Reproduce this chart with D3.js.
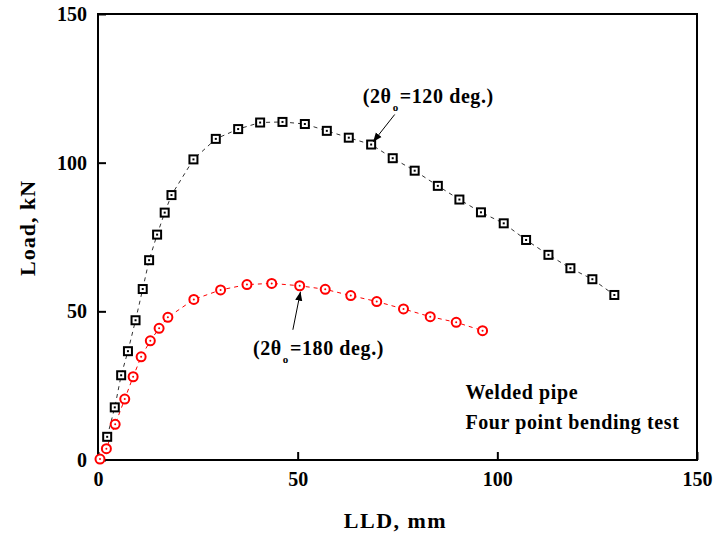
<!DOCTYPE html>
<html>
<head>
<meta charset="utf-8">
<script src="https://cdn.jsdelivr.net/npm/d3@7"></script>
<style>
  body { margin: 0; background: #fff; }
  text { font-family: "Liberation Serif", "Times New Roman", serif; font-weight: bold; fill: #000; }
</style>
</head>
<body>
<script>
// data: LLD (mm) vs Load (kN)
var lld120 = [2.3, 4.2, 5.8, 7.5, 9.4, 11.2, 12.8, 14.8, 16.7, 18.4, 23.9, 29.5, 35.1, 40.6, 46.2, 51.8, 57.3, 62.8, 68.4, 73.8, 79.3, 85.1, 90.5, 95.9, 101.6, 107.2, 112.8, 118.3, 123.8, 129.3]
var load120 = [7.8, 17.7, 28.5, 36.6, 47.0, 57.5, 67.2, 75.8, 83.2, 89.1, 101.1, 108.0, 111.3, 113.5, 113.7, 113.0, 110.7, 108.4, 106.1, 101.5, 97.3, 92.2, 87.6, 83.3, 79.6, 74.0, 69.0, 64.5, 60.8, 55.5]

var lld180 = [0.5, 2.1, 4.3, 6.7, 8.8, 10.8, 13.1, 15.3, 17.5, 24.0, 30.7, 37.3, 43.5, 50.5, 56.9, 63.3, 69.8, 76.5, 83.2, 89.7, 96.3]
var load180 = [0.3, 3.8, 12.0, 20.5, 28.0, 34.7, 40.1, 44.3, 48.0, 54.0, 57.2, 59.0, 59.4, 58.6, 57.4, 55.3, 53.3, 50.8, 48.2, 46.3, 43.5]

var xTicks = [0, 50, 100, 150]
var yTicks = [0, 50, 100, 150]

var noteLines = ["Welded pipe", "Four point bending test"]

var margin = {top: 14, right: 17, bottom: 75, left: 98},
    W = 714, H = 535,
    w = W - margin.left - margin.right,
    h = H - margin.top - margin.bottom;

var svg = d3.select("body").append("svg")
    .attr("width", W)
    .attr("height", H)

var g = svg.append("g")
    .attr("transform", "translate(" + margin.left + "," + margin.top + ")")

var xScale = d3.scaleLinear().domain([0, 150]).range([0, w])
var yScale = d3.scaleLinear().domain([0, 150]).range([h, 0])

// axes, ticks pointing inward
var xAxis = g.append("g")
    .attr("transform", "translate(0," + h + ")")
    .call(d3.axisBottom(xScale).tickValues(xTicks).tickSizeInner(-8).tickSizeOuter(0).tickPadding(12))
var yAxis = g.append("g")
    .call(d3.axisLeft(yScale).tickValues(yTicks).tickSizeInner(-8).tickSizeOuter(0).tickPadding(11))

g.selectAll(".tick line").attr("stroke", "#000").attr("stroke-width", 2)
g.selectAll(".tick text").style("font-size", "20px")
g.selectAll(".domain").remove()

// frame
g.append("rect")
    .attr("x", 0).attr("y", 0)
    .attr("width", w).attr("height", h)
    .attr("fill", "none")
    .attr("stroke", "#000")
    .attr("stroke-width", 2)

// axis titles
svg.append("text")
    .attr("x", margin.left + w / 2 - 2)
    .attr("y", 528)
    .attr("text-anchor", "middle")
    .style("font-size", "22px")
    .style("letter-spacing", "1.5px")
    .text("LLD, mm")

svg.append("text")
    .attr("transform", "translate(35," + (margin.top + 214) + ") rotate(-90)")
    .attr("text-anchor", "middle")
    .style("font-size", "22px")
    .style("letter-spacing", "1px")
    .text("Load, kN")

var line = d3.line()
    .x(function(d) { return xScale(d[0]) })
    .y(function(d) { return yScale(d[1]) })

var pts120 = d3.zip(lld120, load120)
var pts180 = d3.zip(lld180, load180)

// dashed connecting lines
g.append("path")
    .datum(pts120)
    .attr("d", line)
    .attr("fill", "none")
    .attr("stroke", "#333")
    .attr("stroke-width", 1)
    .attr("stroke-dasharray", "4,4")

g.append("path")
    .datum(pts180)
    .attr("d", line)
    .attr("fill", "none")
    .attr("stroke", "red")
    .attr("stroke-width", 1)
    .attr("stroke-dasharray", "4,4")

// square markers
var sq = g.selectAll(".sq")
    .data(pts120)
    .enter()
    .append("g")
    .attr("transform", function(d) { return "translate(" + xScale(d[0]) + "," + yScale(d[1]) + ")" })
sq.append("rect")
    .attr("x", -4).attr("y", -4)
    .attr("width", 8).attr("height", 8)
    .attr("fill", "#fff")
    .attr("stroke", "#000")
    .attr("stroke-width", 2)
sq.append("rect")
    .attr("x", -1).attr("y", -1)
    .attr("width", 2).attr("height", 2)
    .attr("fill", "#000")

// circle markers
var ci = g.selectAll(".ci")
    .data(pts180)
    .enter()
    .append("g")
    .attr("transform", function(d) { return "translate(" + xScale(d[0]) + "," + yScale(d[1]) + ")" })
ci.append("circle")
    .attr("r", 4.5)
    .attr("fill", "#fff")
    .attr("stroke", "red")
    .attr("stroke-width", 2)
ci.append("circle")
    .attr("r", 1)
    .attr("fill", "red")

// arrow head
svg.append("defs").append("marker")
    .attr("id", "arr")
    .attr("viewBox", "0 0 10 10")
    .attr("refX", 10).attr("refY", 5)
    .attr("markerWidth", 9).attr("markerHeight", 9)
    .attr("markerUnits", "userSpaceOnUse")
    .attr("orient", "auto")
    .append("path")
    .attr("d", "M0,1 L10,5 L0,9 Z")
    .attr("fill", "#000")

// annotations: text position, arrow tail, arrow tip (data units)
function note(value, tx, ty, ax0, ay0, ax1, ay1) {
    var t = g.append("text")
        .attr("x", xScale(tx))
        .attr("y", yScale(ty))
        .style("font-size", "20px")
        .style("letter-spacing", "0.6px")
    t.append("tspan").text("(2\u03b8")
    t.append("tspan").attr("dx", 1).attr("dy", 8).style("font-size", "11px").text("o")
    t.append("tspan").attr("dx", 1).attr("dy", -8).text("=" + value + " deg.)")
    g.append("line")
        .attr("x1", xScale(ax0)).attr("y1", yScale(ay0))
        .attr("x2", xScale(ax1)).attr("y2", yScale(ay1))
        .attr("stroke", "#000")
        .attr("stroke-width", 1)
        .attr("marker-end", "url(#arr)")
}
note("120", 66.3, 120.2, 74.3, 116.2, 68.9, 107.0)
note("180", 38.8, 35.3, 48.8, 43.8, 50.7, 56.6)

// test description
g.selectAll(".note")
    .data(noteLines)
    .enter()
    .append("text")
    .attr("x", xScale(92))
    .attr("y", function(d, i) { return yScale(20.5) + i * 30 })
    .style("font-size", "20px")
    .style("letter-spacing", "0.6px")
    .text(function(d) { return d })
</script>
</body>
</html>
